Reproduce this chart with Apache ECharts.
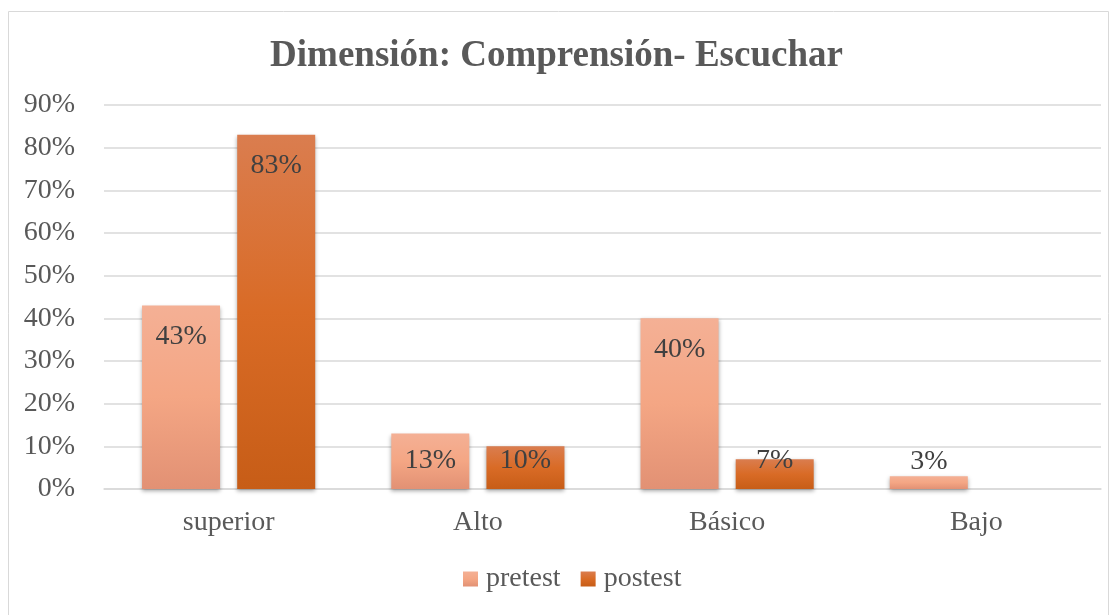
<!DOCTYPE html>
<html><head><meta charset="utf-8">
<script src="https://cdn.jsdelivr.net/npm/echarts@6/dist/echarts.min.js"></script>
<style>html,body{margin:0;padding:0;background:#fff}#c{width:1113px;height:615px}</style>
</head><body><div id="c"></div>
<script>
const categories = ['superior', 'Alto', 'Básico', 'Bajo'];
const pretest = [43, 13, 40, 3];
const postest = [83, 10, 7, 0];
const yTicks = [0, 10, 20, 30, 40, 50, 60, 70, 80, 90];

const serif = '"Liberation Serif", "Times New Roman", serif';
const chart = echarts.init(document.getElementById('c'));
const grad = (a, b, c) => new echarts.graphic.LinearGradient(0, 0, 0, 1, [
  {offset: 0, color: a}, {offset: 0.5, color: b}, {offset: 1, color: c}]);
const labelBase = {show: true, position: 'insideTop', distance: 17, fontFamily: serif, fontSize: 28, color: '#404040',
  formatter: p => p.value ? p.value + '%' : ''};
const itemFor = v => {
  if (v < 5) return {value: v, label: {position: 'top', distance: 1}};
  if (v <= 13) return {value: v, label: {position: 'insideBottom', distance: 14}};
  return v;
};
chart.setOption({
  animation: false,
  graphic: [{type: 'rect', shape: {x: 8.5, y: 11.5, width: 1100, height: 610}, style: {fill: 'none', stroke: '#d9d9d9', lineWidth: 1}}],
  title: {text: 'Dimensión: Comprensión- Escuchar', left: 'center', top: 33,
    textStyle: {fontFamily: serif, fontSize: 37, fontWeight: 'bold', color: '#595959'}},
  legend: {bottom: 17, left: 458, itemWidth: 15, itemHeight: 15, itemGap: 20, icon: 'rect',
    textStyle: {fontFamily: serif, fontSize: 28, color: '#595959', padding: [0, 0, 0, 3]}},
  grid: {left: 104, right: 12, top: 105, bottom: 126},
  xAxis: {type: 'category', data: categories, axisTick: {show: false},
    axisLine: {lineStyle: {color: '#d9d9d9', width: 1.5}},
    axisLabel: {fontFamily: serif, fontSize: 28, color: '#595959', margin: 20}},
  yAxis: {type: 'value', min: yTicks[0], max: yTicks[yTicks.length - 1], interval: 10,
    axisLine: {show: false}, axisTick: {show: false},
    splitLine: {lineStyle: {color: '#d9d9d9', width: 1.5}},
    axisLabel: {fontFamily: serif, fontSize: 28, color: '#595959', margin: 29, formatter: v => v + '%'}},
  series: [
    {name: 'pretest', type: 'bar', barWidth: 78, barGap: '22%',
      data: pretest.map(itemFor),
      itemStyle: {color: grad('#F4B095', '#F4A684', '#E29174'), shadowColor: 'rgba(0,0,0,0.35)', shadowBlur: 4, shadowOffsetY: 2},
      label: labelBase},
    {name: 'postest', type: 'bar', barWidth: 78,
      data: postest.map(itemFor),
      itemStyle: {color: grad('#DA7D4F', '#D96B26', '#C75D17'), shadowColor: 'rgba(0,0,0,0.35)', shadowBlur: 4, shadowOffsetY: 2},
      label: labelBase}
  ]
});
</script></body></html>
